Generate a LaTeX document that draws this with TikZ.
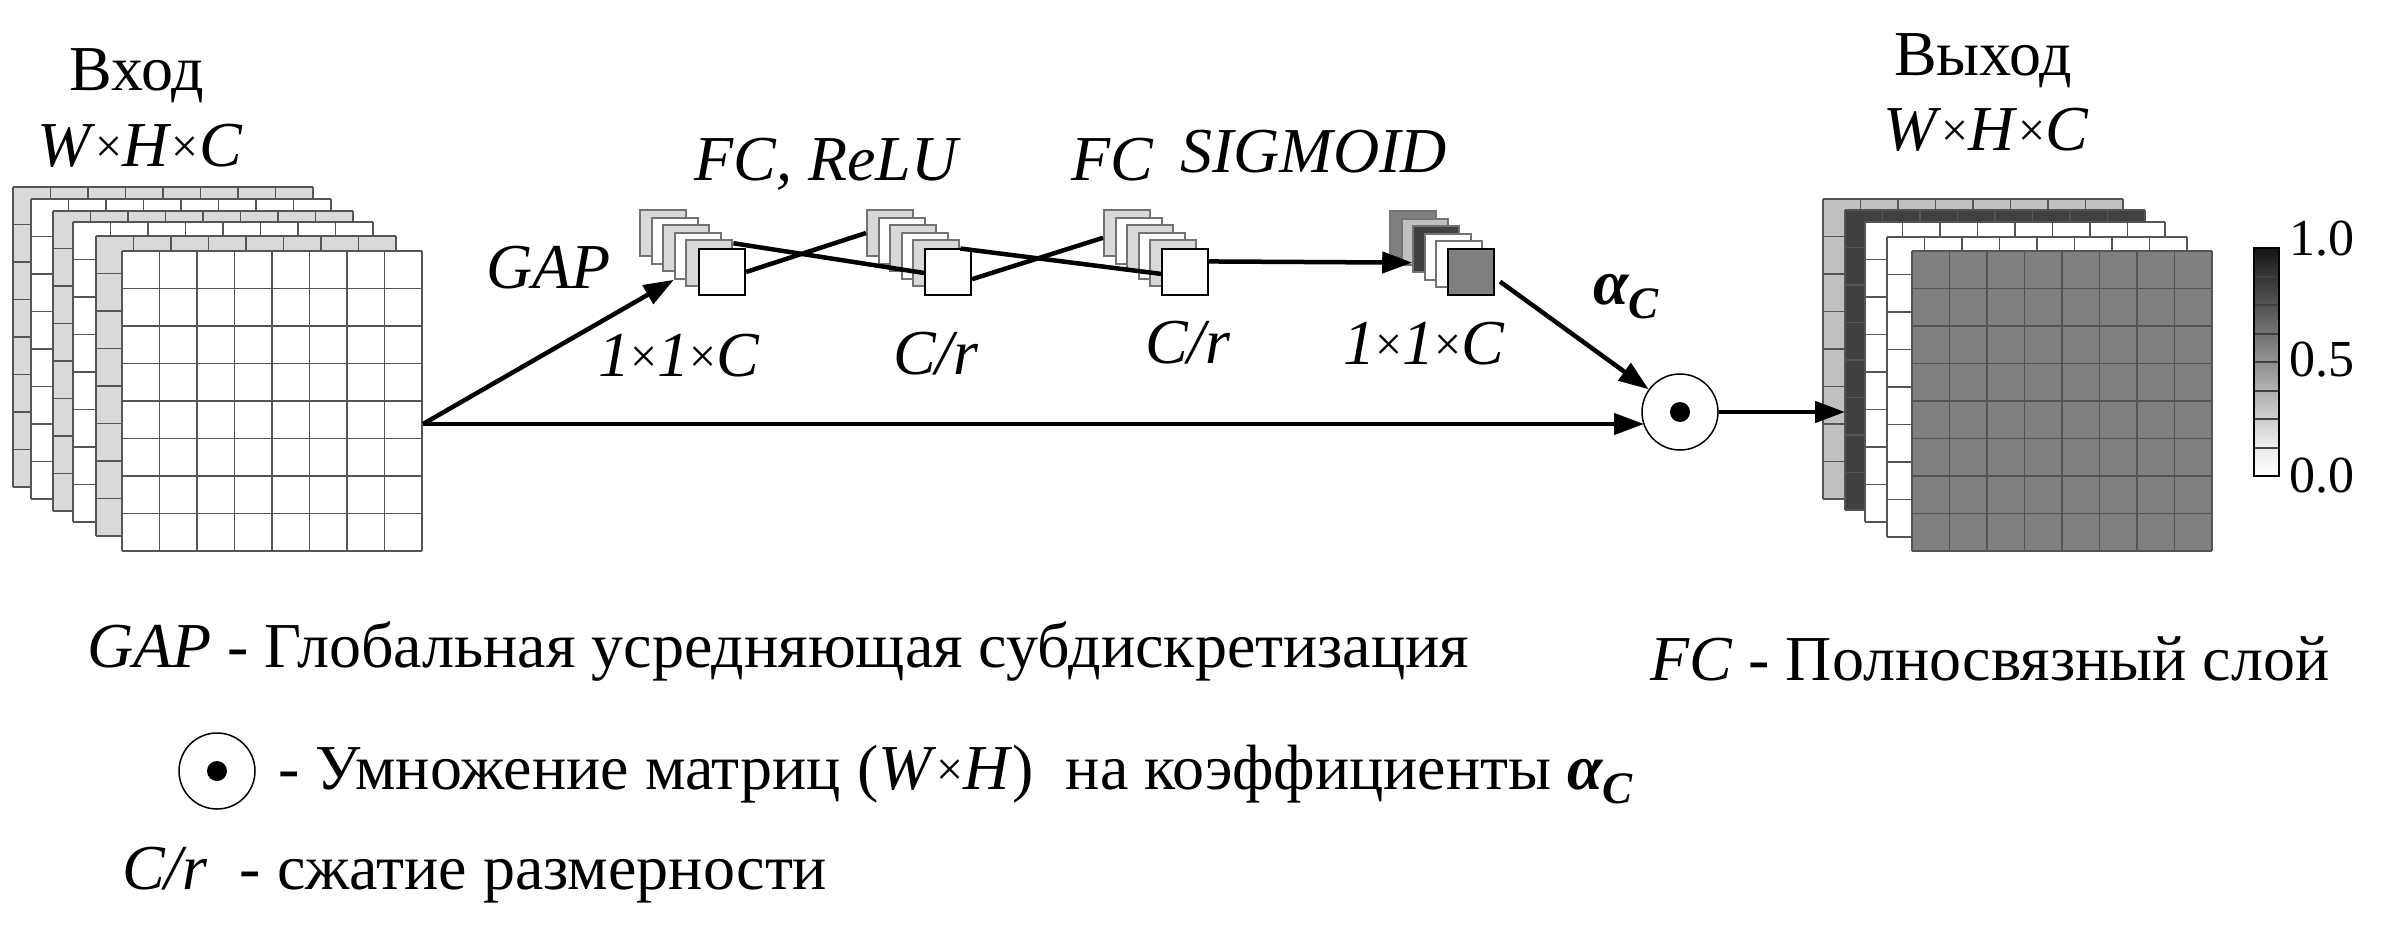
\documentclass[tikz,border=0pt]{standalone}
\usepackage{fontspec}
\setmainfont{Liberation Serif}
\usetikzlibrary{arrows.meta,calc}
\definecolor{lgr}{HTML}{D9D9D9}
\definecolor{mgr}{HTML}{C0C0C0}
\definecolor{dgr}{HTML}{808080}
\definecolor{vdg}{HTML}{404040}
\definecolor{gline}{HTML}{555555}
\newcommand\tms{\raisebox{0.06em}{\scalebox{0.75}{×}}}
\newcommand\alphaC{{\bfseries\itshape α\raisebox{-0.22em}{\fontsize{45}{45}\selectfont C}}}
\newcommand\glayer[3]{%
  \fill[#3] (#1,#2) rectangle ++(300,300);
  \foreach \k in {0,...,8}{
    \draw[gridline] ({#1+37.5*\k},#2) -- ++(0,300);
    \draw[gridline] (#1,{#2+37.5*\k}) -- ++(300,0);
  }%
}
\tikzset{
  gridline/.style={draw=gline, line width=1.7pt},
  lbl/.style={inner sep=0pt, font=\fontsize{64}{72}\selectfont},
  sl/.style={draw=black!55, line width=2pt, minimum width=46pt, minimum height=46pt, inner sep=0pt, anchor=north west},
  sf/.style={sl, draw=black},
  conn/.style={line width=4.5pt},
  arr/.style={line width=4.5pt, -{Triangle[length=30pt,width=21pt]}},
  tick/.style={inner sep=0pt, anchor=west, font=\fontsize{52}{58}\selectfont},
}
\begin{document}
\begin{tikzpicture}[x=1pt,y=-1pt]
\useasboundingbox (0,0) rectangle (2385,939);
% input stack
\glayer{13}{187}{lgr}
\glayer{31}{199}{white}
\glayer{53}{211}{lgr}
\glayer{73}{222}{white}
\glayer{96}{236}{lgr}
\glayer{122}{251}{white}
\coordinate (inp) at (423,424);
% output stack
\glayer{1823}{199}{mgr}
\glayer{1845}{210}{vdg}
\glayer{1865}{222}{white}
\glayer{1887}{237}{white}
\glayer{1912}{251}{dgr}
\coordinate (outL) at (1845,412);
% small stacks
\foreach \i/\c in {0/lgr,1/white,2/lgr,3/white,4/lgr}
  \node[sl, fill=\c] (s1\i) at ({639+11.6*\i},{209+7.6*\i}) {};
\node[sf, fill=white] (s1f) at (698,248) {};
\foreach \i/\c in {0/lgr,1/white,2/lgr,3/white,4/lgr}
  \node[sl, fill=\c] (s2\i) at ({866+11.6*\i},{209+7.6*\i}) {};
\node[sf, fill=white] (s2f) at (924,248) {};
\foreach \i/\c in {0/lgr,1/white,2/lgr,3/white,4/lgr}
  \node[sl, fill=\c] (s3\i) at ({1103+11.6*\i},{209+7.6*\i}) {};
\node[sf, fill=white] (s3f) at (1161,248) {};
\foreach \i/\c in {0/dgr,1/mgr,2/vdg,3/white,4/white}
  \node[sl, fill=\c] (s4\i) at ({1389+11.6*\i},{210+7.6*\i}) {};
\node[sf, fill=dgr] (s4f) at (1447,248) {};
% multiplication node
\node[circle, draw, line width=1.5pt, minimum size=76pt, inner sep=0pt] (mul) at (1680,412) {};
\fill (mul.center) circle (10);
% connectors
\draw[conn] ($(s14.north east)!0.08!(s14.south east)$) -- ($(s2f.north west)!0.52!(s2f.south west)$);
\draw[conn] (s1f.east) -- (s20.west);
\draw[conn] ($(s2f.north east)!0.65!(s2f.south east)$) -- ($(s30.north west)!0.6!(s30.south west)$);
\draw[conn] ($(s24.north east)!0.19!(s24.south east)$) -- ($(s3f.north west)!0.54!(s3f.south west)$);
\draw[arr] ($(s3f.north east)!0.28!(s3f.south east)$) -- ($(s42.north west)!0.78!(s42.south west)$);
\draw[arr] (inp) -- (s13.south west);
\draw[arr] (inp) -- ($(mul.center)+(-36,12)$);
\draw[arr] ($(s4f.north east)!0.7!(s4f.south east)+(5,0)$) -- (mul);
\draw[arr] (mul.east) -- (outL);
% colour bar
\foreach \k in {0,...,7}{
  \pgfmathsetmacro\tp{92-12*\k}
  \pgfmathsetmacro\bt{max(0,78-12*\k)}
  \shade[top color=black!\tp, bottom color=black!\bt] (2254,{248+28.5*\k}) rectangle ++(25,28.5);
}
\foreach \k in {1,...,7}
  \draw[line width=2pt, black!75] (2254,{248+28.5*\k}) -- ++(25,0);
\draw[line width=2.5pt] (2254,248) rectangle (2279,476);
\node[tick] (t10) at (2289,239) {1.0};
\node[tick] (t05) at (2289,360) {0.5};
\node[tick] (t00) at (2289,476) {0.0};
% labels
\node[lbl, anchor=base] (inT) at (137,91) {Вход};
\node[lbl, anchor=base] (inD) at (140,166) {\textit{W}\tms\textit{H}\tms\textit{C}};
\node[lbl, anchor=base] (outT) at (1983,76) {Выход};
\node[lbl, anchor=base] (outD) at (1986,150) {\textit{W}\tms\textit{H}\tms\textit{C}};
\node[lbl, anchor=base west] (gapL) at (486,288) {\textit{GAP}};
\node[lbl, anchor=base west] (fcr) at (694,180) {\textit{FC, ReLU}};
\node[lbl, anchor=base west] (fc2) at (1071,180) {\textit{FC}};
\node[lbl, anchor=base west] (sig) at (1180,172) {\textit{SIGMOID}};
\node[lbl, anchor=base west] (d1) at (598,376) {\textit{1}\tms\textit{1}\tms\textit{C}};
\node[lbl, anchor=base west] (d2) at (893,374) {\textit{C/r}};
\node[lbl, anchor=base west] (d3) at (1145,363) {\textit{C/r}};
\node[lbl, anchor=base west] (d4) at (1343,364) {\textit{1}\tms\textit{1}\tms\textit{C}};
\node[lbl, anchor=base west] (al) at (1593,304) {\alphaC};
% legend
\node[lbl, anchor=base west] (lg1) at (87,667) {\textit{GAP} - Глобальная усредняющая субдискретизация};
\node[lbl, anchor=base west] (lg2) at (1650,680) {\textit{FC} - Полносвязный слой};
\node[circle, draw, line width=1.5pt, minimum size=76pt, inner sep=0pt] (lgc) at (217,771) {};
\fill (lgc.center) circle (10);
\node[lbl, anchor=base west] (lg3) at (278,789) {- Умножение матриц (\textit{W}\tms\textit{H})\ \ на коэффициенты \alphaC};
\node[lbl, anchor=base west] (lg4) at (122,889) {\textit{C/r}\ \ - сжатие размерности};
\end{tikzpicture}
\end{document}
